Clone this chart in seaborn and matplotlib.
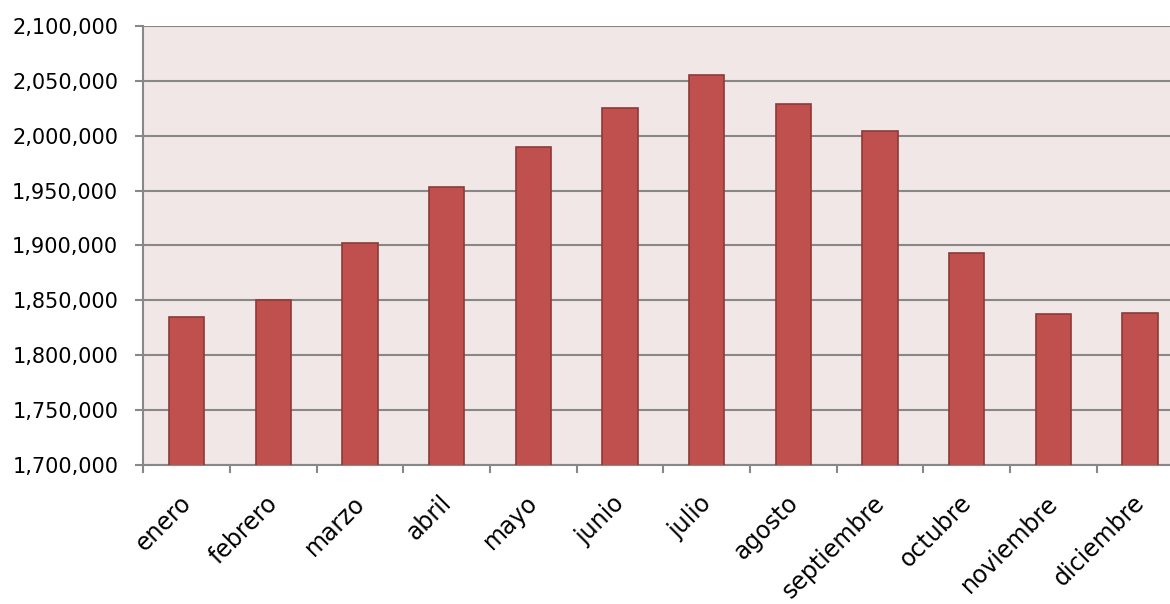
import matplotlib
matplotlib.use("Agg")
import matplotlib.pyplot as plt
import matplotlib.transforms as mtransforms
import seaborn as sns
import pandas as pd
from matplotlib.ticker import FuncFormatter, FixedLocator

months = ["enero", "febrero", "marzo", "abril", "mayo", "junio", "julio",
          "agosto", "septiembre", "octubre", "noviembre", "diciembre"]
values = [1834500, 1850000, 1902700, 1953000, 1990000, 2025000, 2055500,
          2029000, 2004700, 1893000, 1837800, 1838700]
y_ticks = [1700000, 1750000, 1800000, 1850000, 1900000, 1950000, 2000000,
           2050000, 2100000]

sns.set_theme(style="white")
plt.rcParams['font.family'] = ['DejaVu Sans']

df = pd.DataFrame({"mes": months, "valor": values})

fig = plt.figure(figsize=(11.7, 6.04), dpi=100)
ax = fig.add_axes([143.3/1170, 1 - 464.7/604, 1040/1170, (464.7-26.3)/604])
ax.set_facecolor("#F2E7E7")

sns.barplot(data=df, x="mes", y="valor", color="#C0504D", width=0.405,
            saturation=1, edgecolor="#8E3A38", linewidth=1.2, ax=ax, zorder=3)

ax.set_ylim(1700000, 2100000)
ax.set_xlim(-0.5, len(months) - 0.5)
ax.set_yticks(y_ticks)
ax.yaxis.set_major_formatter(FuncFormatter(lambda v, p: f"{int(v):,}"))
ax.grid(axis="y", color="#888888", linewidth=1.5, zorder=0)
ax.set_axisbelow(True)

ax.set_xlabel("")
ax.set_ylabel("")

for s in ["top", "right"]:
    ax.spines[s].set_visible(False)
for s in ["left", "bottom"]:
    ax.spines[s].set_visible(True)
    ax.spines[s].set_color("#888888")
    ax.spines[s].set_linewidth(1.5)

ax.tick_params(axis="y", which="major", left=True, length=6, width=1.5,
               color="#888888", labelsize=15, labelcolor="black", pad=12)
ax.tick_params(axis="x", which="major", bottom=False, length=0,
               labelsize=17, labelcolor="black", pad=25)
ax.xaxis.set_minor_locator(FixedLocator([i - 0.5 for i in range(len(months) + 1)]))
ax.tick_params(axis="x", which="minor", bottom=True, length=6, width=1.5,
               color="#888888")

offset = mtransforms.ScaledTranslation(1/100, 0, fig.dpi_scale_trans)
for lbl in ax.get_xticklabels():
    lbl.set_rotation(45)
    lbl.set_ha("right")
    lbl.set_va("center")
    lbl.set_rotation_mode("anchor")
    lbl.set_transform(lbl.get_transform() + offset)

fig.savefig("out.png", dpi=100, facecolor="white")
